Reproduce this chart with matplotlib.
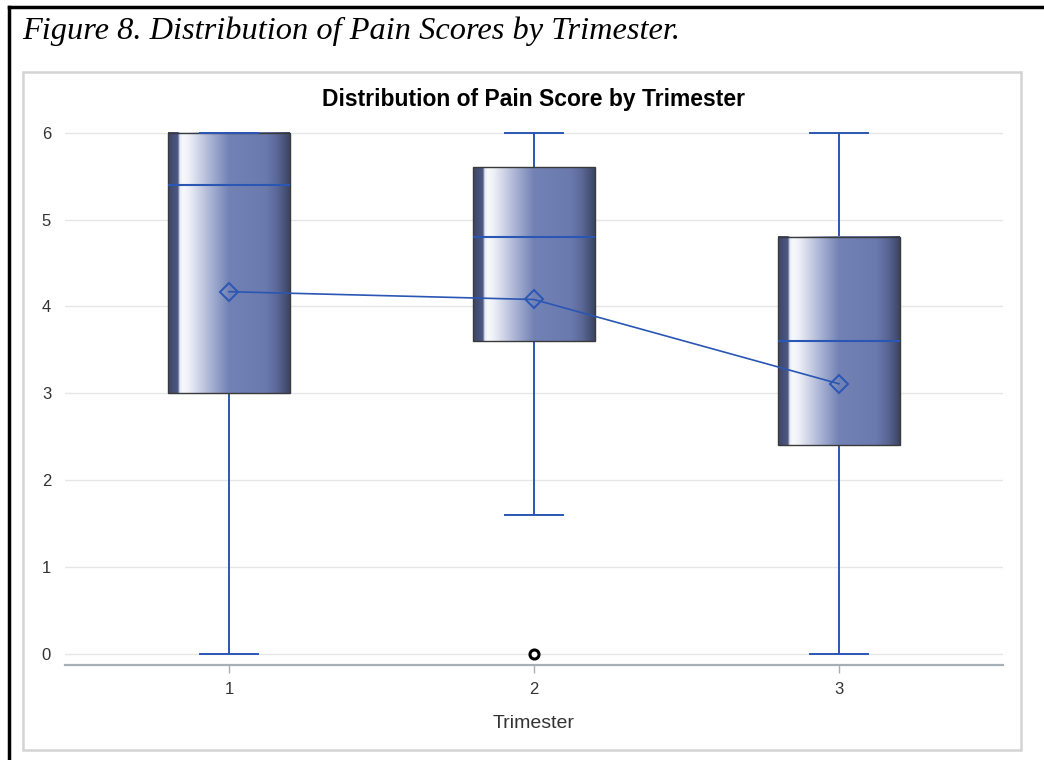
import matplotlib.pyplot as plt
import numpy as np
from matplotlib.colors import LinearSegmentedColormap
from matplotlib.patches import Rectangle
from matplotlib.lines import Line2D

# pain score summary per trimester
trimesters = [1, 2, 3]
q1 = [3.0, 3.6, 2.4]
medians = [5.4, 4.8, 3.6]
q3 = [6.0, 5.6, 4.8]
whisker_lo = [0.0, 1.6, 0.0]
whisker_hi = [6.0, 6.0, 6.0]
means = [4.17, 4.08, 3.11]
outliers = [[], [0.0], []]

blue = '#2a56b4'

fig = plt.figure(figsize=(10.44, 7.6), dpi=100)
fig.patch.set_facecolor('white')

# outer frame of the figure (open at right/bottom)
fig.add_artist(Line2D([9/1044, 9/1044], [0, 1 - 7/760], color='black', lw=2.5))
fig.add_artist(Line2D([9/1044, 1], [1 - 7/760, 1 - 7/760], color='black', lw=2.5))
fig.text(22/1044, 1 - 31/760, 'Figure 8. Distribution of Pain Scores by Trimester.',
         family='Liberation Serif', style='italic', fontsize=23.3, va='center', ha='left')

# light grey panel around the graph
fig.add_artist(Rectangle((23/1044, 1 - 750/760), (1021 - 23)/1044, (750 - 72)/760,
                         fill=False, edgecolor='#d4d4d4', lw=1.8))

ax = fig.add_axes([65/1044, 1 - 665/760, (1003 - 65)/1044, (665 - 124)/760])

stats = []
for i in range(len(trimesters)):
    stats.append(dict(med=medians[i], q1=q1[i], q3=q3[i], whislo=whisker_lo[i],
                      whishi=whisker_hi[i], fliers=outliers[i], mean=means[i],
                      label=str(trimesters[i])))

width = 0.4
bp = ax.bxp(stats, positions=trimesters, widths=width, patch_artist=True,
            showmeans=False, showcaps=True,
            boxprops=dict(facecolor='none', edgecolor='#3a3a3a', lw=1.0, zorder=4),
            medianprops=dict(color=blue, lw=1.5, zorder=5),
            whiskerprops=dict(color=blue, lw=1.4, zorder=2),
            capprops=dict(color=blue, lw=1.4, zorder=5),
            capwidths=0.19,
            flierprops=dict(marker='o', markerfacecolor='white', markeredgecolor='black',
                            markeredgewidth=2.2, markersize=6.5, zorder=6))

# shaded fill of each box
shade = LinearSegmentedColormap.from_list('shade', [
    (0.0, '#3e4768'), (0.08, '#4c5884'), (0.095, '#e8ebf4'), (0.12, '#f8f9fc'),
    (0.17, '#eef0f7'), (0.32, '#b4bcd9'), (0.5, '#7282b5'), (0.8, '#6b7aae'),
    (0.9, '#5a6796'), (1.0, '#3c4462')])
grad = np.linspace(0, 1, 256).reshape(1, -1)
for i, x in enumerate(trimesters):
    ax.imshow(grad, cmap=shade, aspect='auto', zorder=3, interpolation='bilinear',
              extent=[x - width / 2, x + width / 2, q1[i], q3[i]])

# mean markers joined by a line
ax.plot(trimesters, means, color=blue, lw=1.2, marker='D', markersize=9,
        markerfacecolor='none', markeredgecolor=blue, markeredgewidth=1.4, zorder=7)

ax.set_xlim(0.462, 3.538)
ax.set_ylim(-0.127, 6.1)
ax.set_xticks(trimesters)
ax.set_xticklabels([str(t) for t in trimesters])
ax.set_yticks(range(0, 7))
ax.grid(axis='y', color='#e6e6e6', lw=1.0, zorder=0)
ax.set_axisbelow(True)
for side in ['left', 'right', 'top']:
    ax.spines[side].set_visible(False)
ax.spines['bottom'].set_color('#a8aeb6')
ax.spines['bottom'].set_linewidth(1.6)
ax.tick_params(axis='y', length=0, pad=10, labelsize=12, labelcolor='#333333')
ax.tick_params(axis='x', length=6, width=1, color='#a8aeb6', pad=6, labelsize=12,
               labelcolor='#333333')
for lab in ax.get_xticklabels() + ax.get_yticklabels():
    lab.set_family('Liberation Sans')
ax.set_xlabel('Trimester', family='Liberation Sans', fontsize=14, color='#333333', labelpad=13)
ax.set_title('Distribution of Pain Score by Trimester', family='Liberation Sans',
             fontweight='bold', fontsize=16.5, pad=13)

fig.savefig('out.png', dpi=100)
